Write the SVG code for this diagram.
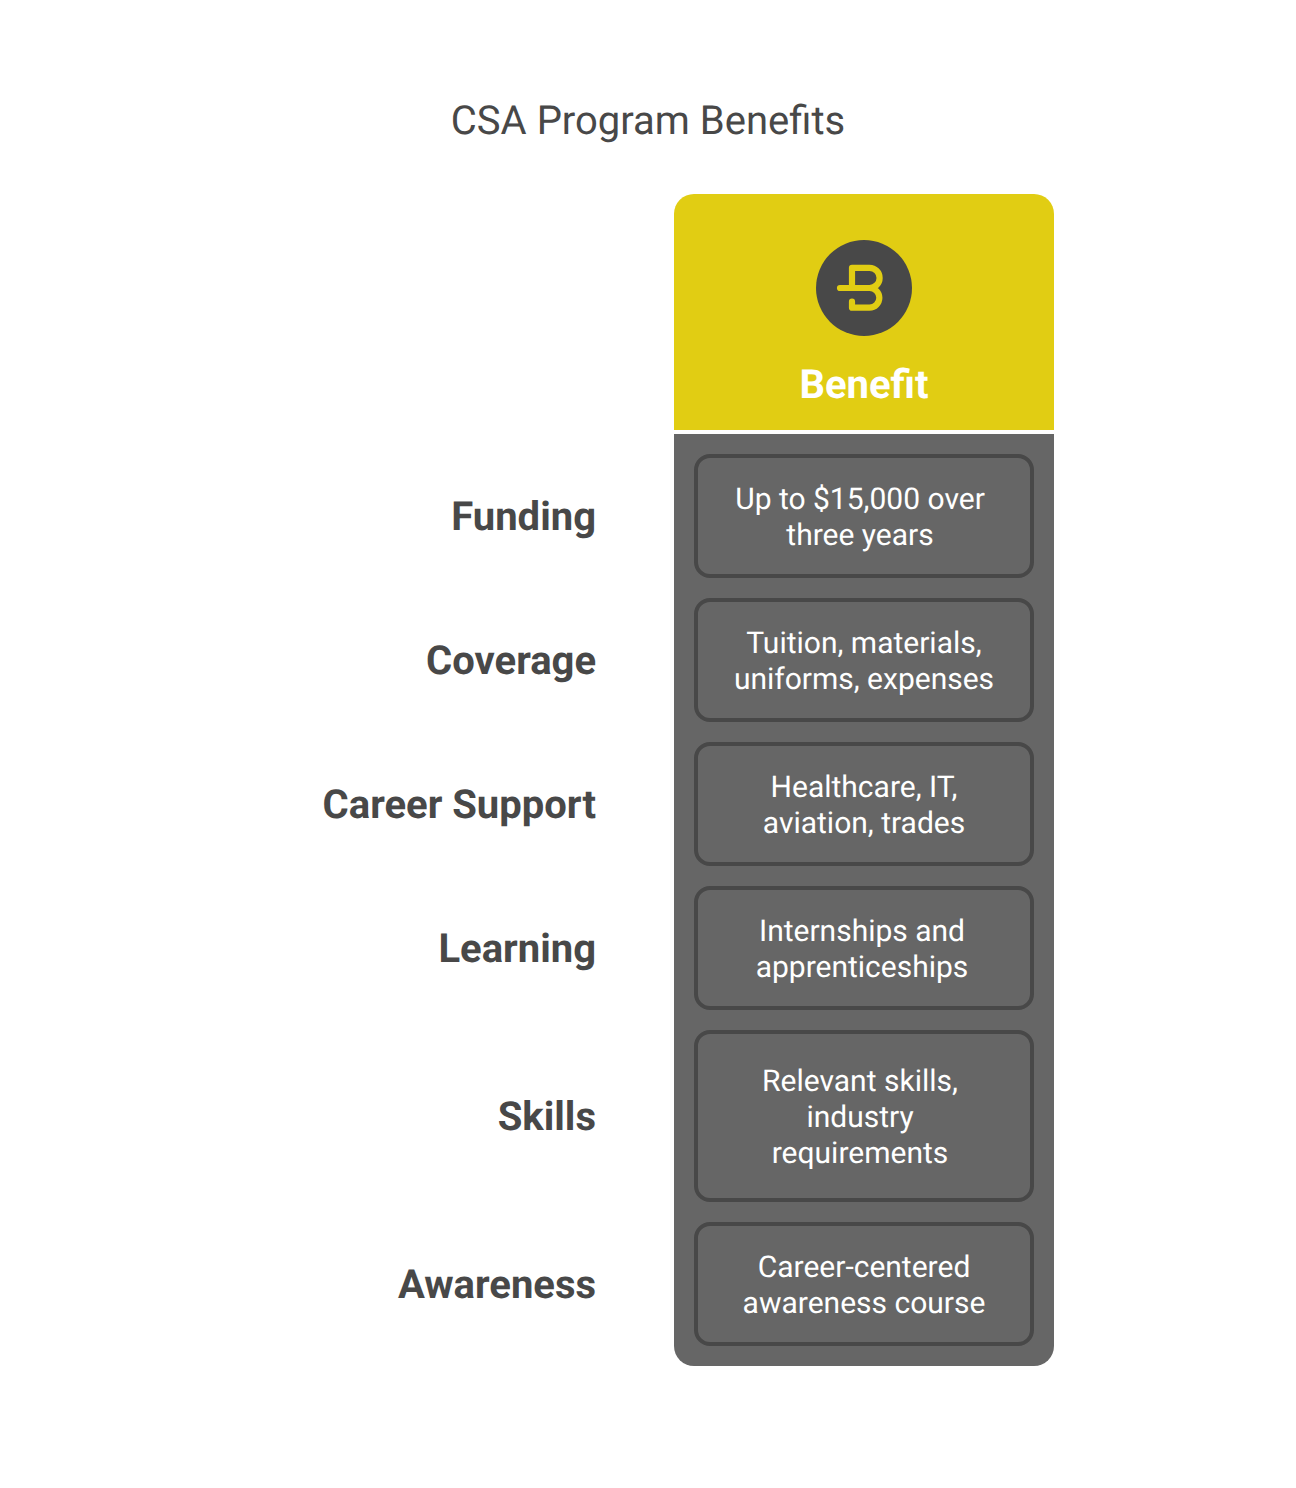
<svg xmlns="http://www.w3.org/2000/svg" width="1296" height="1488" viewBox="0 0 1296 1488">
<style>
text{font-family:Roboto,"Liberation Sans",sans-serif;text-rendering:geometricPrecision}
.t{font-size:40px;fill:#484848;text-anchor:middle}
.h{font-size:40px;font-weight:700;fill:#fff;text-anchor:middle}
.l{font-size:40px;font-weight:700;fill:#484848;text-anchor:end}
.c{font-size:30px;fill:#fff;text-anchor:middle}
.b{fill:#666;stroke:#484848;stroke-width:4}
</style>
<rect width="1296" height="1488" fill="#fff"/>
<text class="t" x="648" y="134.400">CSA Program Benefits</text>
<g id="header">
<path d="M674 430V214a20 20 0 0 1 20-20H1034a20 20 0 0 1 20 20V430Z" fill="#e1cd13"/>
<circle cx="864" cy="288" r="48" fill="#484848"/>
<path d="M840 288H869.500A10.100 10.100 0 0 0 869.500 267.800H852V288M869.500 288A9.850 9.850 0 0 1 869.500 307.700H852V301.700" fill="none" stroke="#e1cd13" stroke-width="6.200" stroke-linecap="round" stroke-linejoin="round"/>
<text class="h" x="864" y="398.400">Benefit</text>
</g>
<path id="column" d="M674 434H1054V1346a20 20 0 0 1-20 20H694a20 20 0 0 1-20-20Z" fill="#666"/>
<g id="funding"><text class="l" x="596" y="530.400">Funding</text><rect class="b" x="696" y="456" width="336" height="120" rx="14"/><text class="c" x="860" y="508.700">Up to $15,000 over</text><text class="c" x="860" y="544.700">three years</text></g>
<g id="coverage"><text class="l" x="596" y="674.400">Coverage</text><rect class="b" x="696" y="600" width="336" height="120" rx="14"/><text class="c" x="864" y="652.700">Tuition, materials,</text><text class="c" x="864" y="688.700">uniforms, expenses</text></g>
<g id="career-support"><text class="l" x="596" y="818.400">Career Support</text><rect class="b" x="696" y="744" width="336" height="120" rx="14"/><text class="c" x="864" y="796.700">Healthcare, IT,</text><text class="c" x="864" y="832.700">aviation, trades</text></g>
<g id="learning"><text class="l" x="596" y="962.400">Learning</text><rect class="b" x="696" y="888" width="336" height="120" rx="14"/><text class="c" x="862" y="940.700">Internships and</text><text class="c" x="862" y="976.700">apprenticeships</text></g>
<g id="skills"><text class="l" x="596" y="1130.400">Skills</text><rect class="b" x="696" y="1032" width="336" height="168" rx="14"/><text class="c" x="860" y="1090.700">Relevant skills,</text><text class="c" x="860" y="1126.700">industry</text><text class="c" x="860" y="1162.700">requirements</text></g>
<g id="awareness"><text class="l" x="596" y="1298.400">Awareness</text><rect class="b" x="696" y="1224" width="336" height="120" rx="14"/><text class="c" x="864" y="1276.700">Career-centered</text><text class="c" x="864" y="1312.700">awareness course</text></g>
</svg>
